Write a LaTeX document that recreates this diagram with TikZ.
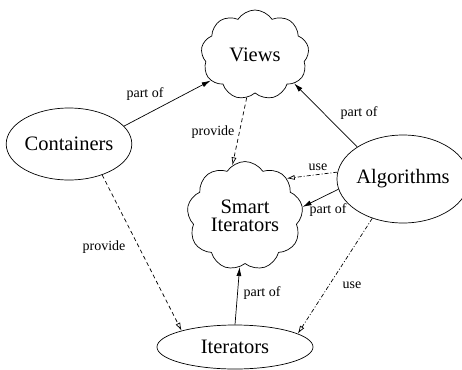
\documentclass[tikz,border=0pt]{standalone}
\usepackage{fontspec}
\setmainfont{Liberation Serif}
\usetikzlibrary{shapes.geometric,shapes.symbols,arrows.meta}
\begin{document}
\begin{tikzpicture}[x=1pt,y=-1pt,
  concept/.style={draw,line width=0.7pt,ellipse,inner sep=0pt,
    font=\fontsize{20.5}{17}\selectfont},
  puff/.style={draw,line width=0.7pt,cloud,cloud puffs=9,cloud puff arc=115,
    inner sep=0pt,align=center,font=\fontsize{20.5}{18.5}\selectfont},
  lbl/.style={font=\fontsize{14}{16}\selectfont,inner sep=0pt},
  link/.style={line width=0.7pt},
  partof/.style={link,-{Latex[length=9pt,width=5pt]}},
  provide/.style={link,dash pattern=on 4pt off 3pt,-{Latex[open,length=8pt,width=5pt]}},
  uses/.style={link,dash pattern=on 4pt off 2pt on 1pt off 2pt,-{Latex[open,length=8pt,width=5pt]}}]
\useasboundingbox (0,0) rectangle (462,369);

% concepts
\node[puff,minimum width=108pt,minimum height=90pt] (views) at (255,55) {Views};
\node[puff,minimum width=116pt,minimum height=96pt] (smart) at (245,216) {Smart\\Iterators};
\node[concept,minimum width=115pt,minimum height=72pt] (cont) at (69,144) {Containers};
\node[concept,minimum width=120pt,minimum height=88pt] (alg) at (403,179) {Algorithms};
\node[concept,minimum width=156pt,minimum height=44pt] (iter) at (235,347) {Iterators};

% relations
\draw[partof] (cont.18) -- (views.210);
\draw[provide] (views.259) -- (smart.104);
\draw[partof] (alg.145) -- (views.-36);
\draw[uses] (alg.174) -- (smart.42);
\draw[partof] (alg.189) -- (smart.9);
\draw[provide] (cont.-43) -- (iter.163);
\draw[uses] (alg.232) -- (iter.12);
\draw[partof] (iter.90) -- (smart.-96);

% relation labels
\node[lbl] (l1) at (145,94) {part of};
\node[lbl] (l2) at (213,132) {provide};
\node[lbl] (l3) at (359,113) {part of};
\node[lbl] (l4) at (318,167) {use};
\node[lbl] (l5) at (328,210) {part of};
\node[lbl] (l6) at (104,247) {provide};
\node[lbl] (l7) at (262,293) {part of};
\node[lbl] (l8) at (352,285) {use};
\end{tikzpicture}
\end{document}
